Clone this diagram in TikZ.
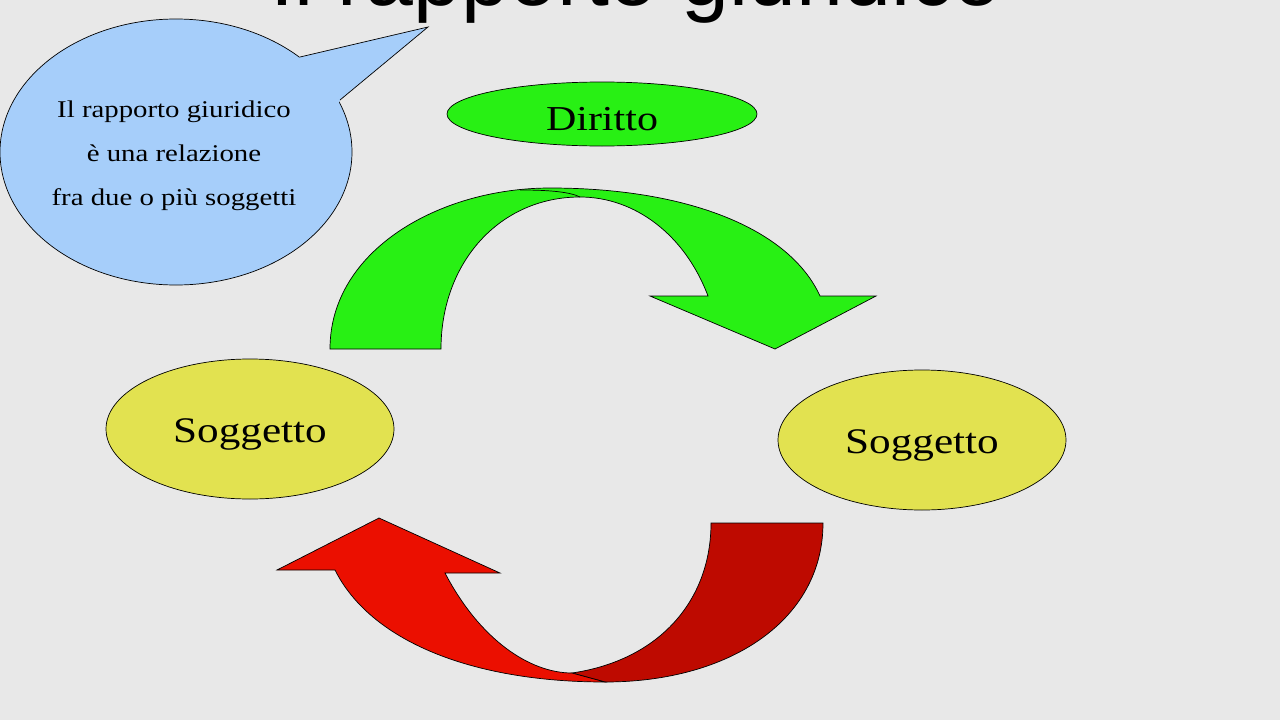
\documentclass[tikz,border=0pt]{standalone}
\usepackage{fontspec}
\setmainfont[FakeStretch=1.2]{Liberation Serif}
\newfontfamily\titlefont{Liberation Sans}
\usetikzlibrary{shapes.geometric}
\definecolor{bg}{RGB}{232,232,232}
\definecolor{bubble}{RGB}{166,206,250}
\definecolor{grn}{RGB}{40,240,20}
\definecolor{yel}{RGB}{226,226,80}
\definecolor{redA}{RGB}{235,15,0}
\definecolor{redB}{RGB}{190,10,0}
\tikzset{ov/.style={ellipse,draw=black,line width=0.7pt,inner sep=0pt},
 band/.style={draw=black,line width=0.7pt,line join=miter}}
\begin{document}
\begin{tikzpicture}[x=1pt,y=-1pt]
\useasboundingbox (0,0) rectangle (1280,720);
\clip (0,0) rectangle (1280,720);
\fill[bg] (0,0) rectangle (1280,720);
\node[font=\titlefont\fontsize{86}{86}\selectfont] (title) at (636,-17) {Il rapporto giuridico};
% bubble
\node[ov,fill=bubble,minimum width=352pt,minimum height=266pt] (bub) at (176,152) {};
\fill[bubble] (296,62) -- (300,57) -- (428,27) -- (340,100) -- (336,110) -- cycle;
\draw[line width=0.7pt] (300,57) -- (428,27) -- (340,100);
\node[align=center,font=\fontsize{24}{44}\selectfont] (btext) at (174,156) {Il rapporto giuridico\\è una relazione\\fra due o più soggetti};
% ellipses
\node[ov,fill=grn,minimum width=310pt,minimum height=64pt] (dir) at (602,114) {};
\node[font=\fontsize{35}{35}\selectfont] (dirt) at (602,119) {Diritto};
\node[ov,fill=yel,minimum width=288pt,minimum height=140pt] (s1) at (250,429) {};
\node[font=\fontsize{36}{36}\selectfont] (s1t) at (250,434) {Soggetto};
\node[ov,fill=yel,minimum width=288pt,minimum height=140pt] (s2) at (922,440) {};
\node[font=\fontsize{36}{36}\selectfont] (s2t) at (922,445) {Soggetto};
% green arrow
\draw[band,fill=grn] (330,349) .. controls (330,250) and (440,188) .. (550,188)
 .. controls (690,188) and (790,230) .. (820,296) -- (876,296) -- (775,349) -- (650,296) -- (708,296)
 .. controls (685,235) and (635,197) .. (580,197) .. controls (500,197) and (441,262) .. (441,349) -- cycle;
\draw[line width=0.7pt] (520,190) .. controls (550,190) and (570,192) .. (580,197);
% red arrow
\draw[band,fill=redB] (823,523) .. controls (823,620) and (730,682) .. (605,682) -- (572,673)
 .. controls (660,660) and (711,600) .. (711,523) -- cycle;
\draw[band,fill=redA] (605,682) .. controls (470,682) and (370,640) .. (335,570) -- (277,570) -- (379,518)
 -- (500,573) -- (445,573) .. controls (480,640) and (530,673) .. (572,673) -- cycle;
\end{tikzpicture}
\end{document}
